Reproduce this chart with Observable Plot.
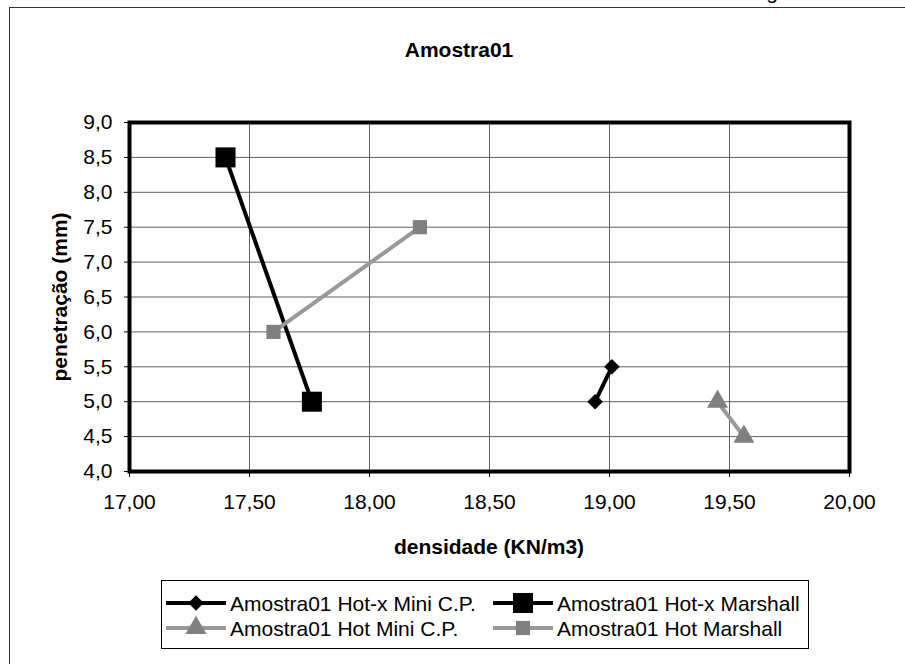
<!DOCTYPE html>
<html><head><meta charset="utf-8">
<script src="https://cdn.jsdelivr.net/npm/d3@7"></script>
<script src="https://cdn.jsdelivr.net/npm/@observablehq/plot@0.6"></script>
<style>
body{margin:0;background:#fff;}
#wrap{position:relative;width:905px;height:664px;overflow:hidden;background:#fff;}
#wrap svg{position:absolute;left:0;top:0;}
</style></head><body><div id="wrap"></div>
<script>
// ---- data ----
const chartTitle = "Amostra01";
const xLabel = "densidade (KN/m3)";
const yLabel = "penetração (mm)";
const seriesNames = ["Amostra01 Hot-x Mini C.P.", "Amostra01 Hot-x Marshall", "Amostra01 Hot Mini C.P.", "Amostra01 Hot Marshall"];
const hotxMiniX = [18.94, 19.01];
const hotxMiniY = [5.0, 5.5];
const hotxMarshallX = [17.40, 17.76];
const hotxMarshallY = [8.5, 5.0];
const hotMiniX = [19.45, 19.56];
const hotMiniY = [5.0, 4.5];
const hotMarshallX = [17.60, 18.21];
const hotMarshallY = [6.0, 7.5];
const xTicks = [17, 17.5, 18, 18.5, 19, 19.5, 20];
const yTicks = [4, 4.5, 5, 5.5, 6, 6.5, 7, 7.5, 8, 8.5, 9];

// ---- styles ----
const FONT = "Arial, 'Liberation Sans', sans-serif";
const styles = [
  {line: "#000000", fill: "#000000", symbol: "diamond2", r: 7},
  {line: "#000000", fill: "#000000", symbol: "square", r: 11.3},
  {line: "#999999", fill: "#808080", symbol: "triangle", r: 7.8},
  {line: "#999999", fill: "#808080", symbol: "square", r: 8}
];
const seriesXY = [[hotxMiniX, hotxMiniY], [hotxMarshallX, hotxMarshallY], [hotMiniX, hotMiniY], [hotMarshallX, hotMarshallY]];
const series = seriesNames.map((name, i) => ({
  name, style: styles[i],
  points: seriesXY[i][0].map((x, j) => ({x, y: seriesXY[i][1][j]}))
}));

const fmtX = d => d.toFixed(2).replace(".", ",");
const fmtY = d => d.toFixed(1).replace(".", ",");

const seriesMarks = series.flatMap(s => [
  Plot.line(s.points, {x: "x", y: "y", stroke: s.style.line, strokeWidth: 4}),
  Plot.dot(s.points, {x: "x", y: "y", symbol: () => s.style.symbol, r: s.style.r, fill: s.style.fill, stroke: "none"})
]);

const chart = Plot.plot({
  width: 905, height: 664,
  marginLeft: 129, marginRight: 56, marginTop: 122, marginBottom: 193,
  style: {fontFamily: FONT, fontSize: "21px", color: "black", background: "transparent"},
  x: {domain: [17, 20]},
  y: {domain: [4, 9]},
  symbol: {type: "identity"},
  marks: [
    Plot.gridX(xTicks, {stroke: "#606060", strokeOpacity: 1}),
    Plot.gridY(yTicks, {stroke: "#606060", strokeOpacity: 1}),
    Plot.axisX(xTicks, {tickFormat: fmtX, tickSize: 6, tickPadding: 17, label: null}),
    Plot.axisY(yTicks, {tickFormat: fmtY, tickSize: 5, tickPadding: 12, label: null}),
    ...seriesMarks,
    Plot.frame({stroke: "black", strokeWidth: 4})
  ]
});

const wrap = document.getElementById("wrap");

// background overlay: outer border
const bg = d3.create("svg").attr("width", 905).attr("height", 664);
bg.append("rect").attr("x", 9.5).attr("y", 7.5).attr("width", 900).attr("height", 680)
  .attr("fill", "#fff").attr("stroke", "#333").attr("stroke-width", 1);
wrap.appendChild(bg.node());
wrap.appendChild(chart);

// foreground overlay: title, axis labels, legend
const fg = d3.create("svg").attr("width", 905).attr("height", 664)
  .style("font-family", FONT).style("pointer-events", "none");
fg.append("text").attr("x", 772).attr("y", -1).attr("text-anchor", "middle")
  .style("font-size", "21px").text("g");
fg.append("text").attr("x", 459).attr("y", 57).attr("text-anchor", "middle")
  .style("font-size", "21px").style("font-weight", "bold").text(chartTitle);
fg.append("text").attr("x", 489).attr("y", 554).attr("text-anchor", "middle")
  .style("font-size", "21px").style("font-weight", "bold").text(xLabel);
fg.append("text").attr("transform", "translate(67,297) rotate(-90)").attr("text-anchor", "middle")
  .style("font-size", "21px").style("font-weight", "bold").text(yLabel);

// legend
fg.append("rect").attr("x", 161.5).attr("y", 580.5).attr("width", 647).attr("height", 68)
  .attr("fill", "none").attr("stroke", "#000").attr("stroke-width", 1);
const colX = [166, 493];
const rowY = [603, 628];
const symMap = {diamond2: d3.symbolDiamond2, square: d3.symbolSquare, triangle: d3.symbolTriangle};
series.forEach((s, i) => {
  const x0 = colX[i % 2], y0 = rowY[Math.floor(i / 2)];
  const g = fg.append("g");
  g.append("line").attr("x1", x0).attr("x2", x0 + 60).attr("y1", y0).attr("y2", y0)
    .attr("stroke", s.style.line).attr("stroke-width", 4);
  g.append("path").attr("transform", `translate(${x0 + 30},${y0})`)
    .attr("d", d3.symbol(symMap[s.style.symbol], Math.PI * s.style.r * s.style.r)())
    .attr("fill", s.style.fill);
  g.append("text").attr("x", x0 + 64).attr("y", y0 + 8).style("font-size", "21px").text(s.name);
});
wrap.appendChild(fg.node());
</script></body></html>
